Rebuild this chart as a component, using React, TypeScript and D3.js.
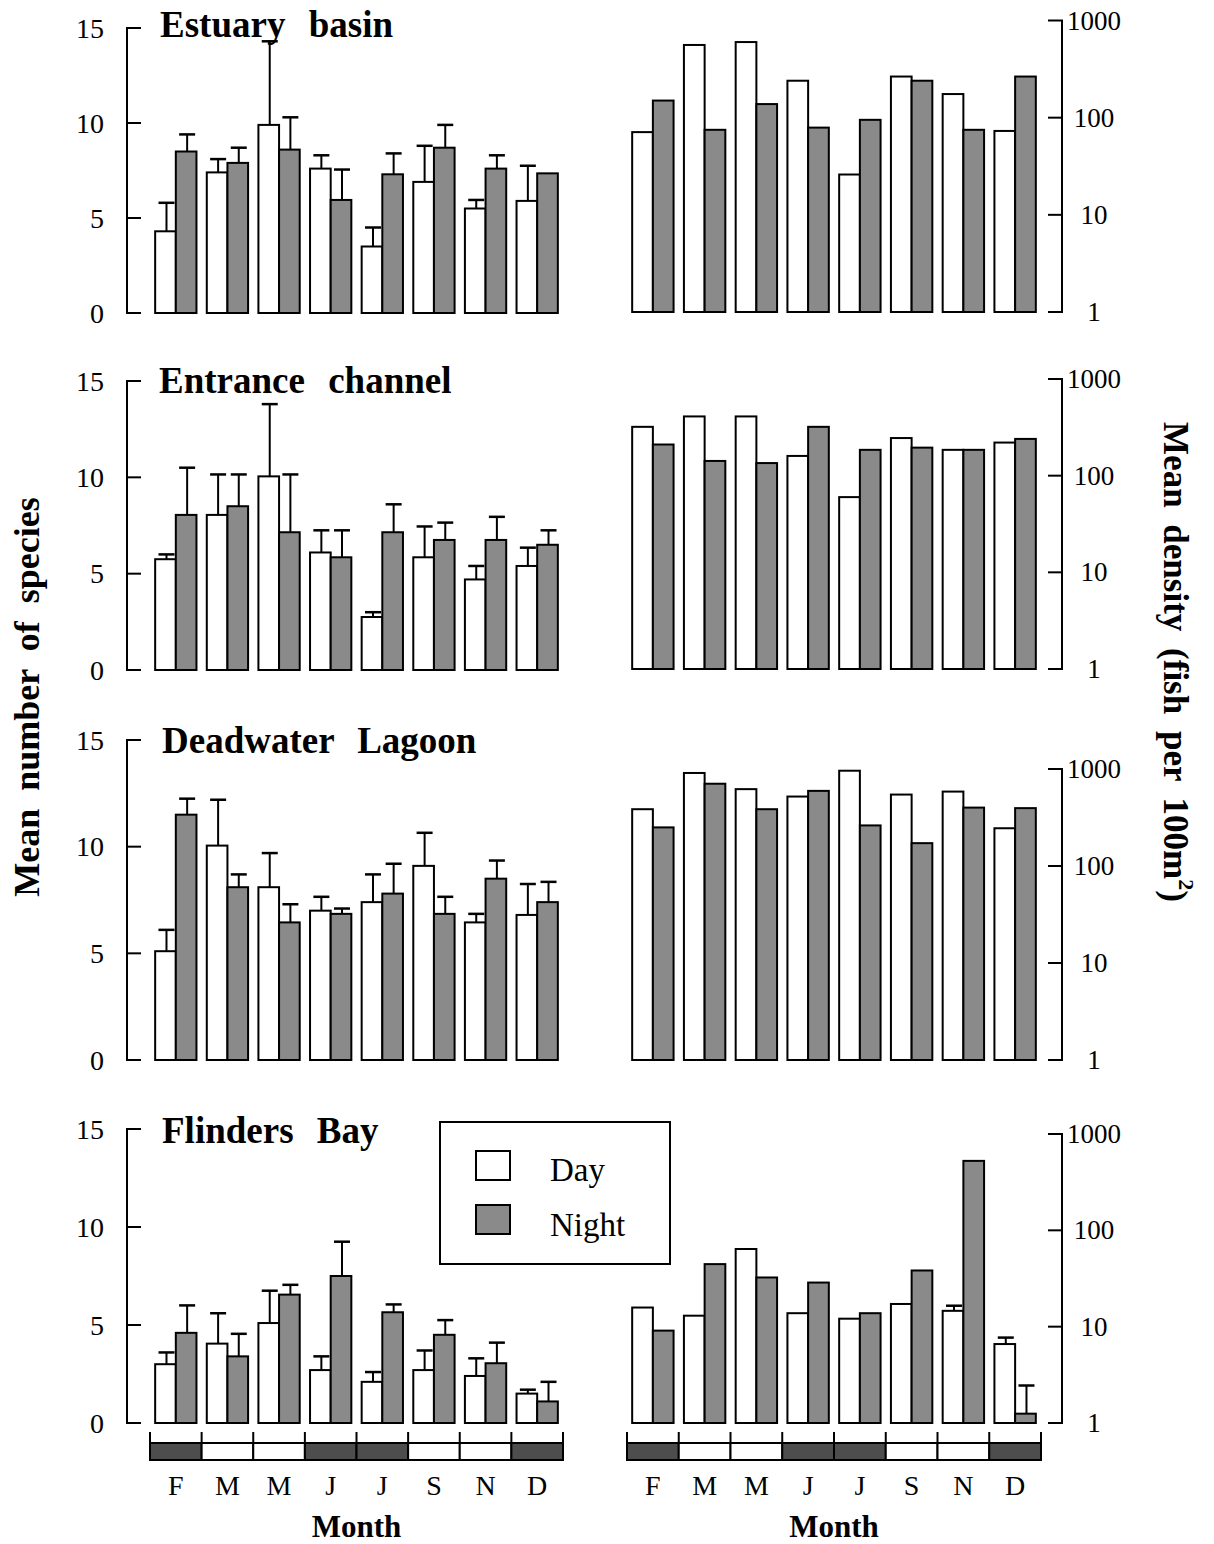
import React from 'react';
import * as d3 from 'd3';

const months = ['F', 'M', 'M', 'J', 'J', 'S', 'N', 'D'];
const darkSeason = [true, false, false, true, true, false, false, true];
const sites = ['Estuary basin', 'Entrance channel', 'Deadwater Lagoon', 'Flinders Bay'];
const speciesTicks = [0, 5, 10, 15];
const densityTicks = [1, 10, 100, 1000];

// Mean number of species (Day / Night) and SE
const estuaryDaySpp = [4.3, 7.4, 9.9, 7.6, 3.5, 6.9, 5.5, 5.9];
const estuaryDaySppSE = [1.5, 0.7, 4.4, 0.7, 1.0, 1.9, 0.45, 1.85];
const estuaryNightSpp = [8.5, 7.9, 8.6, 5.95, 7.3, 8.7, 7.6, 7.35];
const estuaryNightSppSE = [0.9, 0.8, 1.7, 1.6, 1.1, 1.2, 0.7, 0];

const entranceDaySpp = [5.75, 8.05, 10.05, 6.1, 2.75, 5.85, 4.7, 5.4];
const entranceDaySppSE = [0.25, 2.1, 3.75, 1.15, 0.25, 1.6, 0.7, 0.95];
const entranceNightSpp = [8.05, 8.5, 7.15, 5.85, 7.15, 6.75, 6.75, 6.5];
const entranceNightSppSE = [2.45, 1.65, 3.0, 1.4, 1.45, 0.9, 1.2, 0.75];

const lagoonDaySpp = [5.1, 10.05, 8.1, 7.0, 7.4, 9.1, 6.45, 6.8];
const lagoonDaySppSE = [1.0, 2.15, 1.6, 0.65, 1.3, 1.55, 0.4, 1.45];
const lagoonNightSpp = [11.5, 8.1, 6.45, 6.85, 7.8, 6.85, 8.5, 7.4];
const lagoonNightSppSE = [0.75, 0.6, 0.85, 0.25, 1.4, 0.8, 0.85, 0.95];

const flindersDaySpp = [3.0, 4.05, 5.1, 2.7, 2.1, 2.7, 2.4, 1.5];
const flindersDaySppSE = [0.6, 1.55, 1.65, 0.7, 0.5, 1.0, 0.9, 0.2];
const flindersNightSpp = [4.6, 3.4, 6.55, 7.5, 5.65, 4.5, 3.05, 1.1];
const flindersNightSppSE = [1.4, 1.15, 0.5, 1.75, 0.4, 0.75, 1.05, 1.0];

// Mean density (fish per 100 m2)
const estuaryDayDen = [71, 560, 600, 240, 26, 265, 175, 73];
const estuaryNightDen = [150, 75, 138, 79, 95, 240, 75, 265];
const entranceDayDen = [320, 410, 410, 160, 60, 245, 185, 220];
const entranceNightDen = [210, 142, 135, 320, 185, 195, 185, 240];
const lagoonDayDen = [385, 910, 620, 520, 960, 545, 585, 245];
const lagoonNightDen = [250, 705, 385, 595, 262, 172, 400, 395];
const flindersDayDen = [15.8, 13.0, 64, 13.8, 12.1, 17.2, 14.6, 6.6];
const flindersDayDenSE = [0, 0, 0, 0, 0, 0, 1.9, 1.1];
const flindersNightDen = [9.1, 44.6, 32.4, 28.7, 13.8, 38.3, 526, 1.25];
const flindersNightDenSE = [0, 0, 0, 0, 0, 0, 0, 1.2];

const zeros = [0, 0, 0, 0, 0, 0, 0, 0];

const siteData = [
  { spp: [estuaryDaySpp, estuaryNightSpp], sppSE: [estuaryDaySppSE, estuaryNightSppSE], den: [estuaryDayDen, estuaryNightDen], denSE: [zeros, zeros] },
  { spp: [entranceDaySpp, entranceNightSpp], sppSE: [entranceDaySppSE, entranceNightSppSE], den: [entranceDayDen, entranceNightDen], denSE: [zeros, zeros] },
  { spp: [lagoonDaySpp, lagoonNightSpp], sppSE: [lagoonDaySppSE, lagoonNightSppSE], den: [lagoonDayDen, lagoonNightDen], denSE: [zeros, zeros] },
  { spp: [flindersDaySpp, flindersNightSpp], sppSE: [flindersDaySppSE, flindersNightSppSE], den: [flindersDayDen, flindersNightDen], denSE: [flindersDayDenSE, flindersNightDenSE] },
];

// layout (pixel ranges of each panel)
const layout = [
  { left: [313, 28], right: [312, 20.5], titleX: 160, titleY: 37 },
  { left: [670, 381], right: [669, 379], titleX: 159, titleY: 393 },
  { left: [1060, 740], right: [1060, 769], titleX: 162, titleY: 753 },
  { left: [1423, 1129], right: [1423, 1134], titleX: 162, titleY: 1143 },
];

const FONT = "'Liberation Serif', 'Times New Roman', Times, serif";
const NIGHT = '#8a8a8a';
const DARK = '#4d4d4d';
const SW = 2;

const xLeft = d3.scaleBand<number>().domain(d3.range(8)).range([150, 563]).paddingInner(0.2).paddingOuter(0.1);
const xRight = d3.scaleBand<number>().domain(d3.range(8)).range([627, 1041]).paddingInner(0.2).paddingOuter(0.1);
const sub = (x: d3.ScaleBand<number>) => d3.scaleBand<number>().domain([0, 1]).range([0, x.bandwidth()]);

function Bars({ x, y, vals, ses, base }: any) {
  const s = sub(x);
  const out: any[] = [];
  vals.forEach((series: number[], k: number) => {
    series.forEach((v: number, i: number) => {
      const x0 = (x(i) as number) + (s(k) as number);
      const w = s.bandwidth();
      const top = y(v);
      const se = ses[k][i];
      if (se > 0) {
        const ey = y(v + se);
        const cx = x0 + w / 2 + 1;
        out.push(
          <g key={`e${k}-${i}`} stroke="#000" strokeWidth={SW}>
            <line x1={cx} x2={cx} y1={top} y2={ey} />
            <line x1={cx - 8} x2={cx + 8} y1={ey} y2={ey} strokeWidth={2.5} />
          </g>
        );
      }
      out.push(
        <rect key={`b${k}-${i}`} x={x0} y={top} width={w} height={base - top}
          fill={k === 0 ? '#fff' : NIGHT} stroke="#000" strokeWidth={SW} />
      );
    });
  });
  return <g>{out}</g>;
}

function Strip({ x }: any) {
  const step = x.step();
  const [r0] = x.range();
  const yTop = 1443, yBot = 1460;
  return (
    <g>
      {months.map((m, i) => (
        <rect key={i} x={r0 + i * step} y={yTop} width={step} height={yBot - yTop}
          fill={darkSeason[i] ? DARK : '#fff'} stroke="#000" strokeWidth={SW} />
      ))}
      {d3.range(9).map((i) => (
        <line key={`t${i}`} x1={r0 + i * step} x2={r0 + i * step} y1={1432} y2={yTop} stroke="#000" strokeWidth={SW} />
      ))}
      {months.map((m, i) => (
        <text key={`m${i}`} x={(x(i) as number) + x.bandwidth() / 2} y={1495} textAnchor="middle"
          fontFamily={FONT} fontSize={28}>{m}</text>
      ))}
      <text x={r0 + (step * 8) / 2} y={1537} textAnchor="middle" fontFamily={FONT} fontSize={31} fontWeight="bold">Month</text>
    </g>
  );
}

function Panel({ idx }: { idx: number }) {
  const L = layout[idx];
  const d = siteData[idx];
  const yL = d3.scaleLinear().domain([0, 15]).range(L.left);
  const yR = d3.scaleLog().domain([1, 1000]).range(L.right);
  return (
    <g>
      {/* left axis */}
      <line x1={127} x2={127} y1={yL(15)} y2={yL(0)} stroke="#000" strokeWidth={SW} />
      {speciesTicks.map((t) => (
        <g key={t}>
          <line x1={126} x2={141} y1={yL(t)} y2={yL(t)} stroke="#000" strokeWidth={SW} />
          <text x={104} y={yL(t)} textAnchor="end" dominantBaseline="central" fontFamily={FONT} fontSize={28}>{t}</text>
        </g>
      ))}
      <Bars x={xLeft} y={yL} vals={d.spp} ses={d.sppSE} base={yL(0)} />
      <text x={L.titleX} y={L.titleY} fontFamily={FONT} fontSize={37} fontWeight="bold" wordSpacing={14}>{sites[idx]}</text>
      {/* right axis */}
      <line x1={1062} x2={1062} y1={yR(1000)} y2={yR(1)} stroke="#000" strokeWidth={SW} />
      {densityTicks.map((t) => (
        <g key={t}>
          <line x1={1048} x2={1063} y1={yR(t)} y2={yR(t)} stroke="#000" strokeWidth={SW} />
          <text x={1094} y={yR(t)} textAnchor="middle" dominantBaseline="central" fontFamily={FONT} fontSize={27}>{t}</text>
        </g>
      ))}
      <Bars x={xRight} y={yR} vals={d.den} ses={d.denSE} base={yR(1)} />
    </g>
  );
}

export default function App() {
  return (
    <svg width={1214} height={1544} style={{ position: 'absolute', left: 0, top: 0, background: '#fff' }}>
      <rect width={1214} height={1544} fill="#fff" />
      {sites.map((s, i) => <Panel key={i} idx={i} />)}
      <Strip x={xLeft} />
      <Strip x={xRight} />
      {/* legend */}
      <rect x={440} y={1122} width={230} height={142} fill="#fff" stroke="#000" strokeWidth={SW} />
      <rect x={476} y={1151} width={34} height={29} fill="#fff" stroke="#000" strokeWidth={SW} />
      <rect x={476} y={1205} width={34} height={29} fill={NIGHT} stroke="#000" strokeWidth={SW} />
      <text x={550} y={1181} fontFamily={FONT} fontSize={33}>Day</text>
      <text x={550} y={1236} fontFamily={FONT} fontSize={33}>Night</text>
      {/* axis titles */}
      <text transform="translate(27,697) rotate(-90)" textAnchor="middle" dominantBaseline="central"
        fontFamily={FONT} fontSize={36} fontWeight="bold" wordSpacing={9}>Mean number of species</text>
      <text transform="translate(1175,662) rotate(90)" textAnchor="middle" dominantBaseline="central"
        fontFamily={FONT} fontSize={35} fontWeight="bold" wordSpacing={8}>
        Mean density (fish per 100m<tspan fontSize={22} dy={-12}>2</tspan><tspan dy={12}>)</tspan>
      </text>
    </svg>
  );
}
